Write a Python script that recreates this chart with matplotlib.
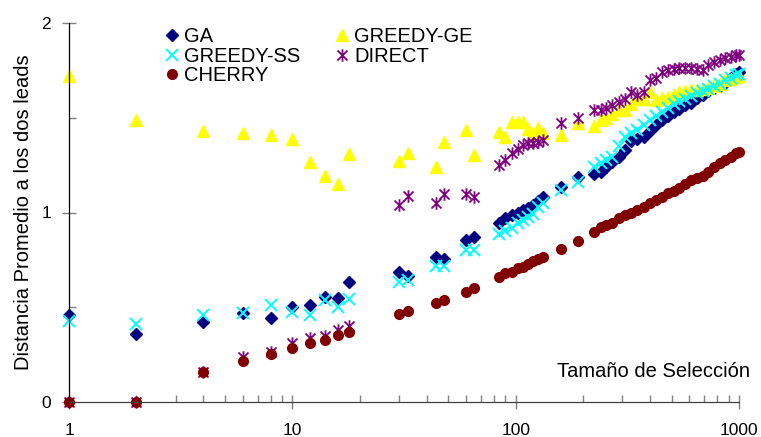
import numpy as np
import matplotlib.pyplot as plt
from matplotlib.path import Path
from matplotlib.lines import Line2D

plt.rcParams['font.family'] = ['Liberation Sans', 'DejaVu Sans']

# selection sizes (x) shared by all series
sizes = [1, 2, 4, 6, 8, 10, 12, 14, 16, 18,
         30, 33, 44, 48, 60, 65,
         84, 90, 96, 102, 108, 114, 120, 126, 132,
         160, 190,
         225, 240, 255, 270, 290, 310, 330, 350, 375, 400, 425, 450, 480,
         510, 540, 575, 610, 650, 690, 730, 775, 820, 870, 920, 970, 1000]

ga = [0.46, 0.357, 0.424, 0.468, 0.443, 0.50, 0.51, 0.556, 0.55, 0.635,
      0.684, 0.667, 0.764, 0.755, 0.855, 0.872,
      0.943, 0.969, 0.987, 0.996, 1.013, 1.025, 1.04, 1.06, 1.083,
      1.133, 1.186,
      1.203, 1.215, 1.24, 1.268, 1.294, 1.33, 1.375, 1.39, 1.40, 1.43, 1.46, 1.488, 1.51,
      1.532, 1.545, 1.565, 1.58, 1.605, 1.62, 1.64, 1.655, 1.67, 1.685, 1.71, 1.73, 1.74]

greedy_ss = [0.427, 0.41, 0.46, 0.468, 0.51, 0.477, 0.46, 0.538, 0.50, 0.542,
             0.635, 0.644, 0.72, 0.72, 0.80, 0.80,
             0.889, 0.90, 0.917, 0.943, 0.96, 0.978, 0.99, 1.03, 1.05,
             1.119, 1.163,
             1.242, 1.26, 1.275, 1.294, 1.35, 1.40, 1.42, 1.435, 1.46, 1.488, 1.51, 1.532, 1.55,
             1.575, 1.59, 1.60, 1.615, 1.63, 1.64, 1.65, 1.665, 1.68, 1.70, 1.71, 1.725, 1.73]

cherry = [0, 0, 0.16, 0.218, 0.252, 0.285, 0.31, 0.327, 0.354, 0.37,
          0.464, 0.482, 0.521, 0.538, 0.582, 0.60,
          0.658, 0.679, 0.688, 0.705, 0.715, 0.728, 0.745, 0.757, 0.767,
          0.81, 0.851,
          0.899, 0.925, 0.935, 0.946, 0.969, 0.987, 1.0, 1.012, 1.03, 1.049, 1.065, 1.08, 1.101,
          1.115, 1.131, 1.15, 1.172, 1.184, 1.195, 1.212, 1.24, 1.26, 1.278, 1.295, 1.312, 1.32]

direct = [0, 0, 0.16, 0.236, 0.262, 0.313, 0.336, 0.35, 0.38, 0.40,
          1.04, 1.089, 1.049, 1.098, 1.098, 1.08,
          1.251, 1.277, 1.312, 1.333, 1.356, 1.365, 1.365, 1.374, 1.38,
          1.47, 1.50,
          1.54, 1.54, 1.55, 1.567, 1.585, 1.60, 1.637, 1.62, 1.637, 1.70, 1.71, 1.743, 1.752,
          1.755, 1.761, 1.761, 1.761, 1.755, 1.752, 1.778, 1.796, 1.805, 1.814, 1.82, 1.831, 1.83]

greedy_ge = [1.72, 1.49, 1.43, 1.418, 1.41, 1.39, 1.265, 1.19, 1.149, 1.31,
             1.273, 1.316, 1.242, 1.374, 1.435, 1.303,
             1.426, 1.40, 1.476, 1.479, 1.476, 1.44, 1.418, 1.444, 1.418,
             1.409, 1.47,
             1.456, 1.488, 1.50, 1.52, 1.54, 1.54, 1.57, 1.60, 1.60, 1.637, 1.594, 1.603, 1.611,
             1.62, 1.637, 1.64, 1.646, 1.646, 1.65, 1.655, 1.67, 1.68, 1.70, 1.705, 1.717, 1.72]

# excel style asterisk: vertical bar plus an X
star = Path([(0, -1), (0, 1), (-0.8, -0.8), (0.8, 0.8), (-0.8, 0.8), (0.8, -0.8)],
            [Path.MOVETO, Path.LINETO] * 3)

fig = plt.figure(figsize=(7.61, 4.37), dpi=100)
ax = fig.add_axes([69/761, 35/437, 670/761, 379/437])

styles = [
    ('GA', ga, dict(marker='D', color='#000080', ms=6.5, ls='none')),
    ('GREEDY-GE', greedy_ge, dict(marker='^', color='#FFFF00', ms=9, ls='none')),
    ('GREEDY-SS', greedy_ss, dict(marker='x', color='#00FFFF', ms=8.5, mew=1.4, ls='none')),
    ('DIRECT', direct, dict(marker=star, color='#800080', ms=9, mew=1.3, ls='none')),
    ('CHERRY', cherry, dict(marker='o', color='#800000', ms=7, ls='none')),
]

handles = {}
for name, vals, kw in styles:
    h, = ax.plot(sizes, vals, clip_on=False, **kw)
    handles[name] = h

ax.set_xscale('log')
ax.set_xlim(1, 1000)
ax.set_ylim(0, 2)
ax.set_xticks([1, 10, 100, 1000])
ax.set_xticklabels(['1', '10', '100', '1000'])
ax.set_yticks([0, 1, 2])
ax.set_yticks([0.5, 1.5], minor=True)

for s in ['top', 'right']:
    ax.spines[s].set_visible(False)
ax.spines['left'].set_color('black')
ax.spines['bottom'].set_color('#404040')
ax.spines['left'].set_linewidth(0.9)
ax.spines['bottom'].set_linewidth(0.9)

ax.tick_params(which='major', direction='inout', length=10, width=1, color='#808080',
               labelsize=12.5, labelcolor='black')
ax.tick_params(which='minor', direction='in', length=5, width=1, color='#808080')
ax.tick_params(axis='x', which='major', pad=10)
ax.tick_params(axis='y', which='major', pad=8)

ax.set_ylabel('Distancia Promedio a los dos leads', fontsize=14.5, labelpad=6)
ax.text(1.016, 0.067, 'Tamaño de Selección', transform=ax.transAxes,
        ha='right', va='baseline', fontsize=14.5)

order = ['GA', 'GREEDY-SS', 'CHERRY', 'GREEDY-GE', 'DIRECT']
ax.legend([handles[n] for n in order], order, ncol=2, frameon=False,
          loc='upper left', bbox_to_anchor=(164/761, 1 - 27/437),
          bbox_transform=fig.transFigure, borderpad=0, borderaxespad=0,
          fontsize=14.5, labelspacing=0.03, handlelength=0.8, handletextpad=0.18,
          columnspacing=1.7)

fig.savefig('out.png', dpi=100)
